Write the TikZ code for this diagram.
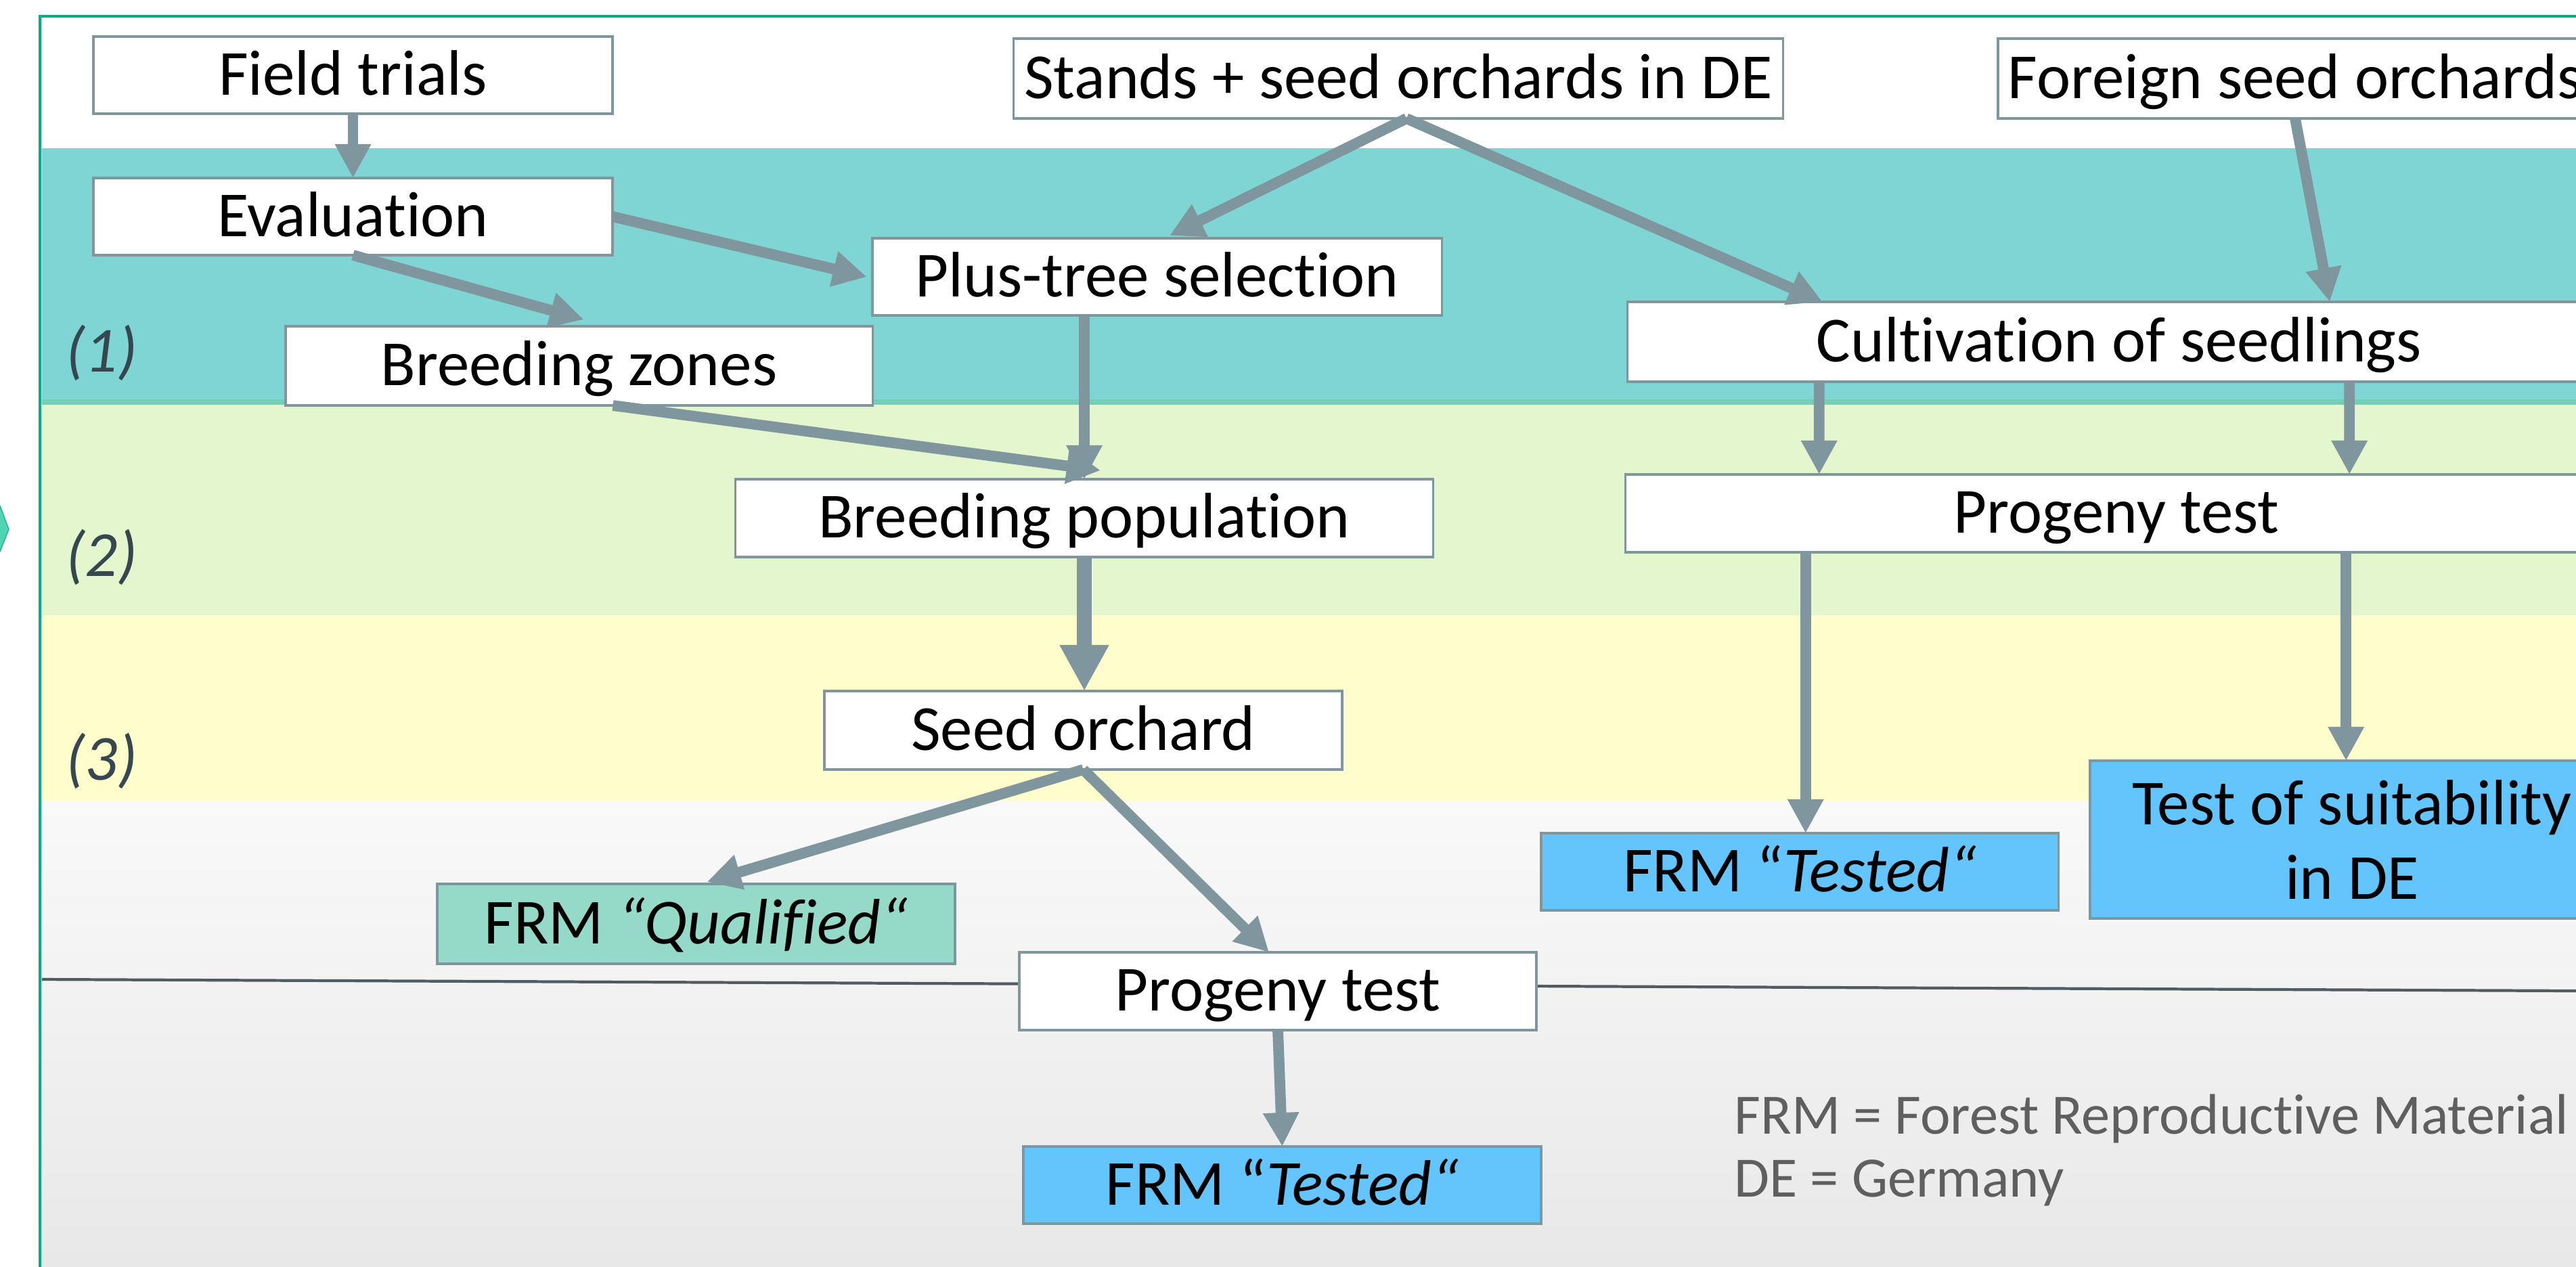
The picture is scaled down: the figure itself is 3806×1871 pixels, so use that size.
\documentclass[tikz,border=0pt]{standalone}
\usepackage{fontspec}
\setmainfont{Carlito}[Ligatures=NoCommon]
\usetikzlibrary{arrows.meta,calc}

\definecolor{frameg}{RGB}{10,170,135}
\definecolor{bandteal}{RGB}{127,213,211}
\definecolor{bandmint}{RGB}{114,208,185}
\definecolor{bandgreen}{RGB}{227,246,205}
\definecolor{bandyellow}{RGB}{254,253,203}
\definecolor{greytop}{RGB}{249,249,249}
\definecolor{greybot}{RGB}{232,232,232}
\definecolor{boxline}{RGB}{127,150,158}
\definecolor{arrowc}{RGB}{127,150,158}
\definecolor{qualfill}{RGB}{149,218,200}
\definecolor{bluefill}{RGB}{100,196,252}
\definecolor{labelc}{RGB}{55,71,79}
\definecolor{legendc}{RGB}{95,95,95}
\definecolor{sepc}{RGB}{80,92,98}
\definecolor{chevc}{RGB}{80,212,178}

\newcommand{\bxfont}{\fontsize{27}{32}\selectfont}
\newcommand{\lgfont}{\fontsize{24}{29}\selectfont}

\begin{document}
\begin{tikzpicture}[x=0.01cm,y=-0.01cm,
  box/.style={draw=boxline, line width=1pt, fill=white, inner sep=0pt, outer sep=0pt,
    font=\bxfont, text height=0.68cm, text depth=0.10cm},
  qualbox/.style={box, fill=qualfill},
  bluebox/.style={box, fill=bluefill},
  flow/.style={draw=arrowc, line width=4.5pt, -{Triangle[width=0.5cm,length=0.5cm]}},
  flowbig/.style={draw=arrowc, line width=6.5pt, -{Triangle[width=0.68cm,length=0.68cm]}},
  phase/.style={font=\bxfont\itshape, text=labelc, inner sep=0pt},
  legend/.style={font=\lgfont, text=legendc, inner sep=0pt, anchor=west},
]
\useasboundingbox (0,0) rectangle (3806,1871);
\clip (0,0) rectangle (3806,1871);

% background bands
\fill[white] (0,0) rectangle (3806,1871);
\fill[bandteal] (62,219) rectangle (3806,590);
\fill[bandmint] (62,590) rectangle (3806,598);
\fill[bandgreen] (62,598) rectangle (3806,909);
\fill[bandyellow] (62,909) rectangle (3806,1183);
\shade[top color=greytop, bottom color=greybot] (62,1183) rectangle (3806,1871);

% separator line in the lower band
\draw[sepc, line width=1.2pt] (62,1447) -- (3806,1464);

% outer frame and side marker
\draw[frameg, line width=1.4pt] (59,1950) -- (59,24) -- (3950,24);
\fill[chevc, draw=frameg, line width=0.3pt] (-30,747) -- (0,747) -- (13,782) -- (0,815) -- (-30,815) -- cycle;

% phase labels
\node[phase] (ph1) at (150,521) {(1)};
\node[phase] (ph2) at (150,823) {(2)};
\node[phase] (ph3) at (150,1124) {(3)};

% boxes
\node[box, minimum width=7.67cm, minimum height=1.14cm] (field) at (521.5,111) {Field trials};
\node[box, minimum width=7.67cm, minimum height=1.14cm] (eval) at (521.5,320) {Evaluation};
\node[box, minimum width=8.67cm, minimum height=1.17cm] (bzones) at (855.5,540.5) {Breeding zones};
\node[box, minimum width=8.41cm, minimum height=1.14cm] (plus) at (1709.5,409) {Plus-tree selection};
\node[box, minimum width=11.36cm, minimum height=1.18cm] (stands) at (2066,116) {Stands + seed orchards in DE};
\node[box, minimum width=8.78cm, minimum height=1.18cm] (foreign) at (3391,116) {Foreign seed orchards};
\node[box, minimum width=14.52cm, minimum height=1.18cm] (cult) at (3131,505) {Cultivation of seedlings};
\node[box, minimum width=14.50cm, minimum height=1.15cm] (progR) at (3127,758.5) {Progeny test};
\node[box, minimum width=10.30cm, minimum height=1.15cm] (BP) at (1602,765.5) {Breeding population};
\node[box, minimum width=7.65cm, minimum height=1.16cm] (SO) at (1600.5,1079) {Seed orchard};
\node[qualbox, minimum width=7.65cm, minimum height=1.18cm] (qual) at (1028.5,1365) {FRM \textit{“Qualified“}};
\node[box, minimum width=7.64cm, minimum height=1.15cm] (progB) at (1888,1464.5) {Progeny test};
\node[bluebox, minimum width=7.65cm, minimum height=1.14cm] (testedB) at (1894.5,1751) {FRM “\textit{Tested“}};
\node[bluebox, minimum width=7.64cm, minimum height=1.14cm] (testedR) at (2659,1288) {FRM “\textit{Tested“}};
\node[bluebox, minimum width=7.74cm, minimum height=2.33cm, align=center,
      text height={}, text depth={},
      font=\fontsize{27}{31.5}\selectfont] (suit) at (3475,1240.5) {Test of suitability\\in DE};

% legend
\node[legend] (leg1) at (2562,1653) {FRM = Forest Reproductive Material};
\node[legend] (leg2) at (2562,1748) {DE = Germany};

% connectors
\draw[flow] (field.south) -- (eval.north);
\draw[flow] (eval.east) -- ([xshift=-0.08cm]plus.west);
\draw[flow] (eval.south) -- ([xshift=0.07cm,yshift=0.1cm]bzones.north);
\draw[flow] ([xshift=0.12cm]stands.south) -- ([xshift=0.185cm,yshift=0.04cm]plus.north);
\draw[flow] ([xshift=0.12cm]stands.south) -- ([xshift=2.88cm]cult.north west);
\draw[flow] (foreign.south) -- ([xshift=10.37cm]cult.north west);
\draw[flow] (BP.north |- plus.south) -- (BP.north);
\draw[flow] ([xshift=0.5cm]bzones.south) -- ([xshift=0.24cm,yshift=0.13cm]BP.north);
\draw[flowbig] (BP.south) -- (BP.south |- SO.north);
\draw[flow] (SO.south) -- ([xshift=0.16cm,yshift=0.03cm]qual.north);
\draw[flow] (SO.south) -- ([xshift=-0.13cm]progB.north);
\draw[flow] (progB.south) -- (testedB.north);
\draw[flow] ([xshift=2.83cm]cult.south west) -- ([xshift=2.86cm]progR.north west);
\draw[flow] ([xshift=10.66cm]cult.south west) -- ([xshift=10.69cm]progR.north west);
\coordinate (o1) at ([xshift=2.66cm]progR.south west);
\coordinate (o2) at ([xshift=10.64cm]progR.south west);
\draw[flow] (o1) -- (o1 |- testedR.north);
\draw[flow] (o2) -- (o2 |- suit.north);
\end{tikzpicture}
\end{document}
